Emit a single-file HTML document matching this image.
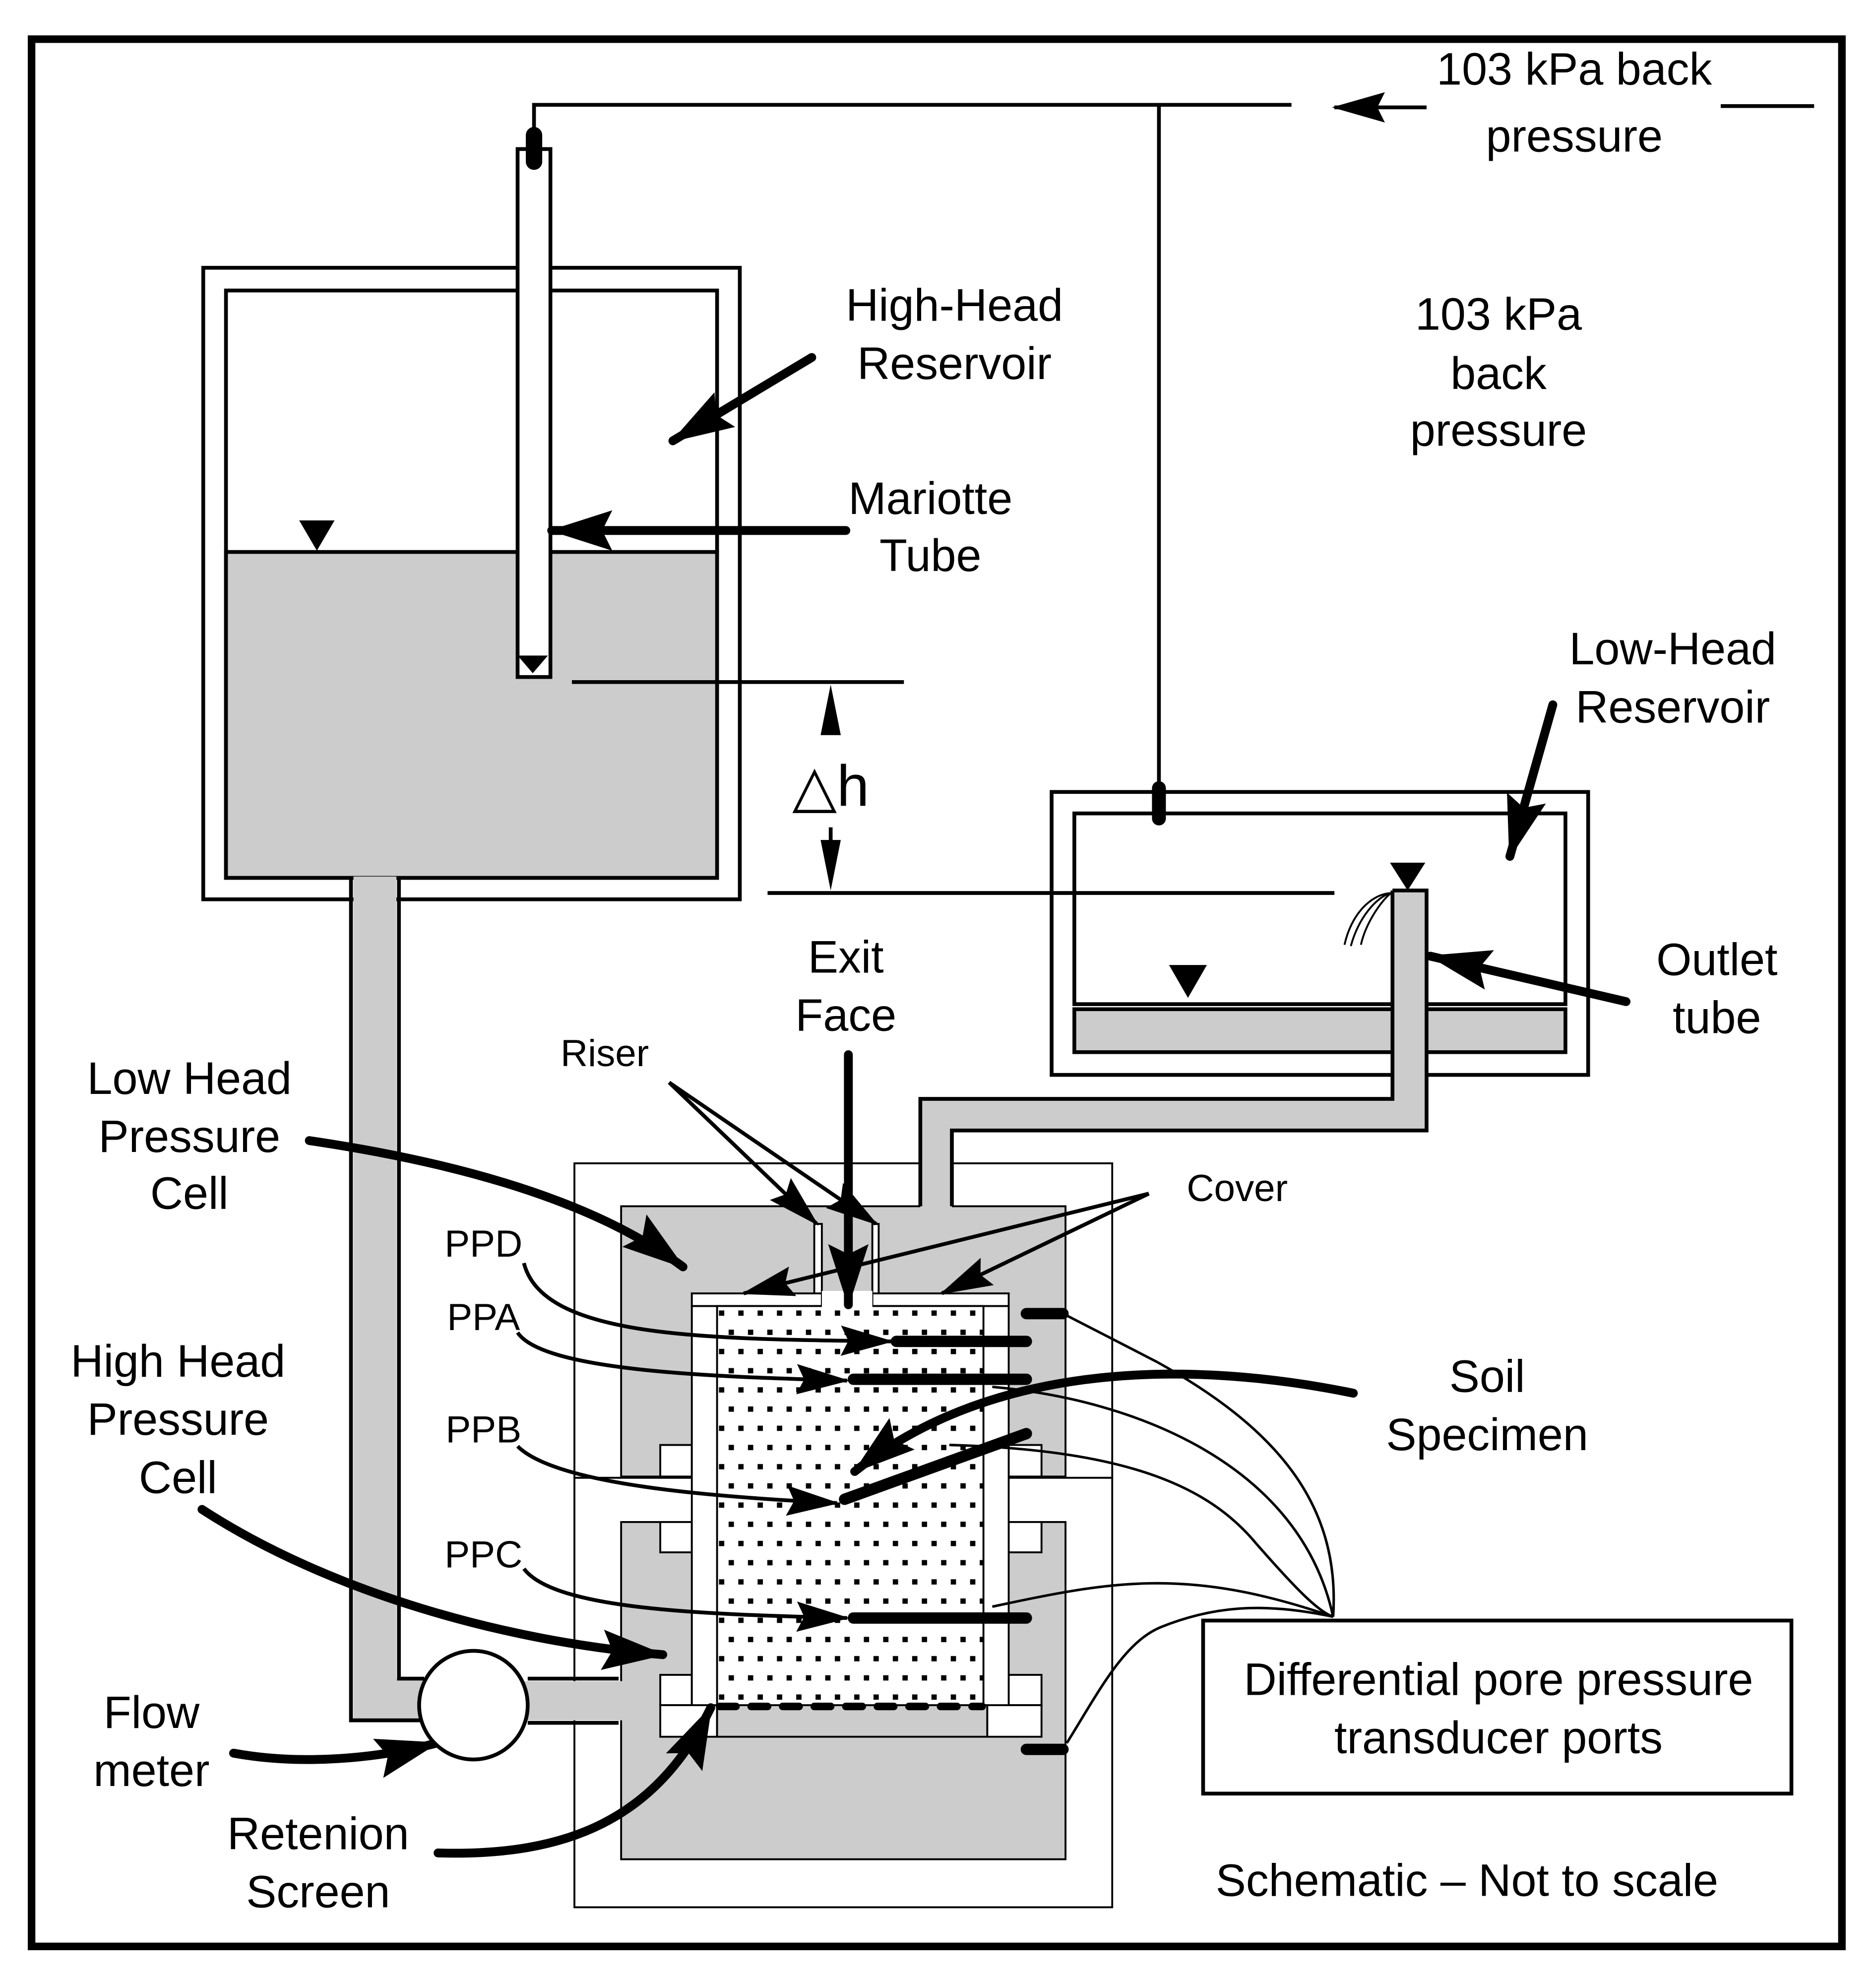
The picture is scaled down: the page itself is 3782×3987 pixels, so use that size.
<!DOCTYPE html>
<html><head><meta charset="utf-8">
<style>
html,body{margin:0;padding:0;background:#fff;}
svg{display:block;}
text{font-family:"Liberation Sans",Arial,sans-serif;fill:#000;text-anchor:middle;}
</style></head>
<body>
<svg width="3782" height="3987" viewBox="0 0 1486 1566" preserveAspectRatio="none" xmlns="http://www.w3.org/2000/svg">
<defs>
<marker id="ah" markerUnits="userSpaceOnUse" viewBox="0 0 50 32" markerWidth="50" markerHeight="32" refX="48" refY="16" orient="auto">
<path d="M0,0 L50,16 L0,32 L8,16 Z" fill="#000"/>
</marker>
<marker id="ahs" markerUnits="userSpaceOnUse" viewBox="0 0 42 24" markerWidth="42" markerHeight="24" refX="40" refY="12" orient="auto">
<path d="M0,0 L42,12 L0,24 L6,12 Z" fill="#000"/>
</marker>
<pattern id="dots" patternUnits="userSpaceOnUse" x="568" y="1036" width="15.3" height="30.4">
<rect x="1.5" y="1.5" width="4.2" height="4.2" fill="#000"/>
<rect x="9.15" y="16.7" width="4.2" height="4.2" fill="#000"/>
</pattern>
</defs>
<rect width="1486" height="1566" fill="#fff"/>
<rect x="25" y="31" width="1434" height="1510" fill="none" stroke="#000" stroke-width="6"/>

<g stroke="#000" stroke-width="3" fill="none">
<polyline points="423,112 423,83 1023,83"/>
<line x1="918" y1="83" x2="918" y2="640"/>
<line x1="1363" y1="84" x2="1437" y2="84"/>
</g>
<line x1="1130" y1="85" x2="1057" y2="85" stroke="#000" stroke-width="3" marker-end="url(#ahs)"/>

<!-- high-head reservoir -->
<rect x="161" y="212" width="425" height="500" fill="#fff" stroke="#000" stroke-width="3"/>
<rect x="179" y="230" width="389" height="465" fill="#fff" stroke="#000" stroke-width="3"/>
<rect x="179" y="437" width="389" height="258" fill="#ccc" stroke="#000" stroke-width="3"/>
<path d="M280,694 L280,1362 L340,1362 L340,1329 L314,1329 L314,694 Z" fill="#ccc"/>
<g stroke="#000" stroke-width="3" fill="none">
<polyline points="278,695 278,1362 336,1362"/>
<polyline points="316,695 316,1329 336,1329"/>
</g>
<rect x="410" y="118" width="26" height="418" fill="#fff" stroke="#000" stroke-width="3"/>
<line x1="423" y1="107" x2="423" y2="128" stroke="#000" stroke-width="13" stroke-linecap="round"/>
<polygon points="410,519 434,519 422,533" fill="#000"/>
<polygon points="237,412 265,412 251,436" fill="#000"/>

<!-- low-head reservoir -->
<rect x="833" y="627" width="425" height="224" fill="#fff" stroke="#000" stroke-width="3"/>
<rect x="851" y="644" width="389" height="151" fill="#fff" stroke="#000" stroke-width="3"/>
<rect x="851" y="799" width="389" height="34" fill="#ccc" stroke="#000" stroke-width="3"/>
<line x1="918" y1="624" x2="918" y2="648" stroke="#000" stroke-width="11" stroke-linecap="round"/>
<polygon points="1101,683 1129,683 1115,705" fill="#000"/>
<polygon points="926,764 956,764 941,790" fill="#000"/>

<!-- delta h -->
<g stroke="#000" stroke-width="3">
<line x1="453" y1="540" x2="716" y2="540"/>
<line x1="608" y1="707" x2="1057" y2="707"/>
<line x1="658" y1="580" x2="658" y2="560"/>
<line x1="658" y1="655" x2="658" y2="672"/>
</g>
<polygon points="650,582 666,582 658,542" fill="#000"/>
<polygon points="650,665 666,665 658,705" fill="#000"/>
<text x="658" y="638" font-size="46">△h</text>

<!-- pressure cell -->
<rect x="455" y="921" width="426" height="249" fill="#fff" stroke="#000" stroke-width="1.5"/>
<rect x="455" y="1170" width="426" height="340" fill="#fff" stroke="#000" stroke-width="1.5"/>
<rect x="492" y="955" width="352" height="214" fill="#ccc" stroke="#000" stroke-width="1.5"/>
<rect x="492" y="1205" width="352" height="267" fill="#ccc" stroke="#000" stroke-width="1.5"/>

<!-- outlet tube / riser pipe -->
<path d="M1103,705 L1130,705 L1130,895 L754,895 L754,957 L729,957 L729,870 L1103,870 Z" fill="#ccc"/>
<g stroke="#000" stroke-width="3" fill="none">
<polyline points="1103,705 1130,705 1130,895 754,895 754,955"/>
<polyline points="1103,705 1103,870 729,870 729,955"/>
</g>
<g stroke="#000" stroke-width="1.5" fill="none">
<path d="M1102,707 C1085,708 1070,725 1065,748"/>
<path d="M1102,707 C1090,710 1076,727 1070,749"/>
<path d="M1102,707 C1095,712 1082,730 1078,748"/>
</g>

<rect x="410" y="1331" width="84" height="31" fill="#ccc"/>
<g stroke="#000" stroke-width="3">
<line x1="418" y1="1329" x2="490" y2="1329"/>
<line x1="418" y1="1364" x2="490" y2="1364"/>
</g>
<g fill="#fff" stroke="#000" stroke-width="1.5">
<rect x="523" y="1144" width="25" height="25"/>
<rect x="523" y="1205" width="25" height="24"/>
<rect x="523" y="1326" width="25" height="24"/>
<rect x="523" y="1350" width="45" height="25"/>
<rect x="799" y="1144" width="26" height="25"/>
<rect x="799" y="1205" width="26" height="24"/>
<rect x="799" y="1326" width="26" height="24"/>
<rect x="782" y="1350" width="43" height="25"/>
<rect x="548" y="1034" width="251" height="316"/>
<rect x="548" y="1024" width="103" height="10"/>
<rect x="691" y="1024" width="108" height="10"/>
<rect x="645" y="969" width="6" height="55"/>
<rect x="691" y="969" width="5" height="55"/>
</g>
<rect x="568" y="1350" width="214" height="25" fill="#ccc" stroke="#000" stroke-width="1.5"/>
<rect x="568" y="1034" width="211" height="316" fill="#fff" stroke="#000" stroke-width="1.5"/>
<rect x="568" y="1036" width="211" height="312" fill="url(#dots)"/>
<rect x="651" y="1022" width="40" height="14" fill="#fff"/>
<line x1="570" y1="1351" x2="778" y2="1351" stroke="#000" stroke-width="6" stroke-dasharray="13,12" stroke-linecap="round"/>

<g stroke="#000" stroke-width="9" stroke-linecap="round">
<line x1="710" y1="1062" x2="813" y2="1062"/>
<line x1="676" y1="1092" x2="813" y2="1092"/>
<line x1="669" y1="1187" x2="813" y2="1135"/>
<line x1="676" y1="1281" x2="813" y2="1281"/>
<line x1="813" y1="1040" x2="842" y2="1040"/>
<line x1="813" y1="1385" x2="842" y2="1385"/>
</g>
<g stroke="#000" stroke-width="2" fill="none">
<path d="M844,1041 L916,1078 C1010,1130 1062,1190 1056,1280"/>
<path d="M786,1098 C900,1108 1030,1160 1056,1280"/>
<path d="M752,1144 C900,1148 960,1180 995,1222 C1030,1262 1045,1276 1056,1280"/>
<path d="M786,1272 C880,1252 940,1240 1056,1280"/>
<path d="M845,1380 C870,1340 890,1300 920,1288 C960,1272 1000,1268 1056,1280"/>
</g>

<rect x="953" y="1283" width="466" height="137" fill="#fff" stroke="#000" stroke-width="3"/>
<text x="1187" y="1342" font-size="36">Differential pore pressure</text>
<text x="1187" y="1388" font-size="36">transducer ports</text>

<g stroke="#000" stroke-width="7" fill="none" stroke-linecap="round">
<line x1="643" y1="283" x2="533" y2="349" marker-end="url(#ah)"/>
<line x1="670" y1="420" x2="437" y2="420" marker-end="url(#ah)"/>
<line x1="1230" y1="558" x2="1196" y2="678" marker-end="url(#ah)"/>
<line x1="1288" y1="793" x2="1133" y2="757" marker-end="url(#ah)"/>
<line x1="672" y1="835" x2="672" y2="1033" marker-end="url(#ah)"/>
<path d="M245,903 C360,920 470,950 541,1003" marker-end="url(#ah)"/>
<path d="M160,1195 C260,1260 400,1300 525,1310" marker-end="url(#ah)"/>
<path d="M185,1388 C240,1398 300,1392 346,1380" marker-end="url(#ah)"/>
<path d="M347,1467 C450,1470 520,1440 563,1352" marker-end="url(#ah)"/>
<path d="M1072,1103 C950,1078 790,1075 677,1165" marker-end="url(#ah)"/>
</g>
<g stroke="#000" stroke-width="3" fill="none">
<line x1="530" y1="857" x2="647" y2="969" marker-end="url(#ahs)"/>
<line x1="530" y1="857" x2="694" y2="969" marker-end="url(#ahs)"/>
<line x1="910" y1="945" x2="589" y2="1024" marker-end="url(#ahs)"/>
<line x1="910" y1="945" x2="746" y2="1024" marker-end="url(#ahs)"/>
<path d="M415,1000 C430,1060 560,1060 706,1062" marker-end="url(#ahs)"/>
<path d="M410,1055 C430,1085 560,1090 671,1093" marker-end="url(#ahs)"/>
<path d="M410,1145 C440,1175 560,1185 663,1190" marker-end="url(#ahs)"/>
<path d="M415,1242 C440,1275 560,1278 671,1281" marker-end="url(#ahs)"/>
</g>

<circle cx="375" cy="1350" r="43" fill="#fff" stroke="#000" stroke-width="3"/>

<g font-size="36">
<text x="1247" y="67">103 kPa back</text>
<text x="1247" y="120">pressure</text>
<text x="1187" y="261">103 kPa</text>
<text x="1187" y="308">back</text>
<text x="1187" y="353">pressure</text>
<text x="756" y="254">High-Head</text>
<text x="756" y="300">Reservoir</text>
<text x="737" y="407">Mariotte</text>
<text x="737" y="452">Tube</text>
<text x="1325" y="526">Low-Head</text>
<text x="1325" y="572">Reservoir</text>
<text x="670" y="770">Exit</text>
<text x="670" y="816">Face</text>
<text x="1360" y="772">Outlet</text>
<text x="1360" y="818">tube</text>
<text x="150" y="866">Low Head</text>
<text x="150" y="912">Pressure</text>
<text x="150" y="957">Cell</text>
<text x="141" y="1090">High Head</text>
<text x="141" y="1136">Pressure</text>
<text x="141" y="1182">Cell</text>
<text x="1178" y="1102">Soil</text>
<text x="1178" y="1148">Specimen</text>
<text x="120" y="1368">Flow</text>
<text x="120" y="1414">meter</text>
<text x="252" y="1464">Retenion</text>
<text x="252" y="1510">Screen</text>
<text x="1162" y="1501">Schematic – Not to scale</text>
</g>
<g font-size="30">
<text x="383" y="995">PPD</text>
<text x="383" y="1053">PPA</text>
<text x="383" y="1142">PPB</text>
<text x="383" y="1241">PPC</text>
<text x="479" y="844">Riser</text>
<text x="980" y="951">Cover</text>
</g>
</svg>
</body></html>
